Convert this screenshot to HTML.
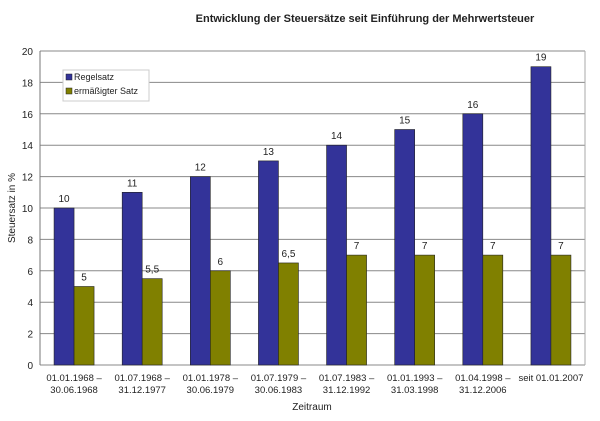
<!DOCTYPE html>
<html><head><meta charset="utf-8"><style>
body{margin:0;background:#fff;font-family:"Liberation Sans",sans-serif}
svg text{font-family:"Liberation Sans",sans-serif;fill:#222}
</style></head><body>
<svg id="c" width="600" height="416" viewBox="0 0 600 416">
<text x="365" y="22" text-anchor="middle" font-size="11" font-weight="bold">Entwicklung der Steuersätze seit Einführung der Mehrwertsteuer</text>
<g id="grid"></g><g id="bars"></g><g id="xl"></g>
<text transform="translate(15,208) rotate(-90)" text-anchor="middle" font-size="10">Steuersatz in %</text>
<text x="312" y="410" text-anchor="middle" font-size="10">Zeitraum</text>
<g>
<rect x="63" y="70" width="86" height="31" fill="#fff" stroke="#ccc"/>
<rect x="66" y="74" width="6" height="6" fill="#333399" stroke="#222" stroke-width="0.5"/>
<text x="74" y="80" font-size="9">Regelsatz</text>
<rect x="66" y="88" width="6" height="6" fill="#808000" stroke="#222" stroke-width="0.5"/>
<text x="74" y="94" font-size="9">ermäßigter Satz</text>
</g>
</svg>
<script>
const categories1=["01.01.1968 –","01.07.1968 –","01.01.1978 –","01.07.1979 –","01.07.1983 –","01.01.1993 –","01.04.1998 –","seit 01.01.2007"];
const categories2=["30.06.1968","31.12.1977","30.06.1979","30.06.1983","31.12.1992","31.03.1998","31.12.2006",""];
const regelsatz=[10,11,12,13,14,15,16,19];
const ermaessigt=[5,5.5,6,6.5,7,7,7,7];
const yTicks=[0,2,4,6,8,10,12,14,16,18,20];
const NS="http://www.w3.org/2000/svg";
const L=40,R=585,T=51,B=365,yMax=20;
const y=v=>B-(v/yMax)*(B-T);
const cw=(R-L)/categories1.length;
const cx=i=>L+cw*(i+0.5);
function mk(tag,attrs,parent,txt){const e=document.createElementNS(NS,tag);for(const k in attrs)e.setAttribute(k,attrs[k]);if(txt!==undefined)e.textContent=txt;document.getElementById(parent).appendChild(e);return e;}
yTicks.forEach(t=>{
 const l=mk('line',{x1:L,x2:R,y1:y(t),y2:y(t),stroke:'#888','stroke-width':1},'grid');
 
 
 const tx=mk('text',{x:L-7,y:y(t)+4,'text-anchor':'end','font-size':10},'grid',String(t));
 
 
});
const ax=mk('line',{x1:L,x2:L,y1:T,y2:B,stroke:'#777'},'grid');


const rb=mk('line',{x1:R,x2:R,y1:T,y2:B,stroke:'#aaa'},'grid');


const bw=20;
const fmt=v=>String(v).replace('.',',');
categories1.forEach((c,i)=>{
 const b1=mk('rect',{x:cx(i)-bw,y:y(regelsatz[i]),width:bw,height:B-y(regelsatz[i]),fill:'#333399',stroke:'#222','stroke-width':0.6},'bars');
 
 
 const b2=mk('rect',{x:cx(i),y:y(ermaessigt[i]),width:bw,height:B-y(ermaessigt[i]),fill:'#808000',stroke:'#222','stroke-width':0.6},'bars');
 
 
 const v1=mk('text',{x:cx(i)-bw/2,y:y(regelsatz[i])-6,'text-anchor':'middle','font-size':10},'bars',fmt(regelsatz[i]));
 
 
 const v2=mk('text',{x:cx(i)+bw/2,y:y(ermaessigt[i])-6,'text-anchor':'middle','font-size':10},'bars',fmt(ermaessigt[i]));
 
 
 const x1=mk('text',{x:cx(i),y:381,'text-anchor':'middle','font-size':9.5},'xl',c);
 
 
 const x2=mk('text',{x:cx(i),y:393,'text-anchor':'middle','font-size':9.5},'xl',categories2[i]);
 
 
});
</script>
</body></html>
